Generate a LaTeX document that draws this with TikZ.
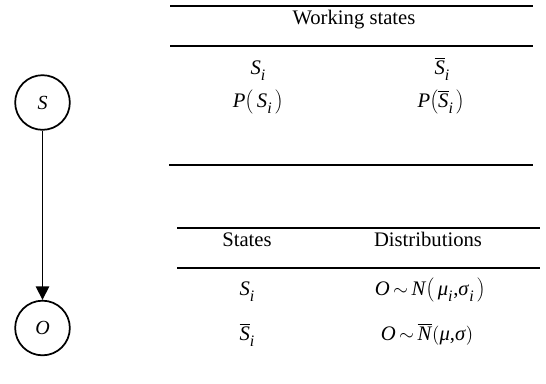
\documentclass[tikz,border=0pt]{standalone}
\usepackage{fontspec}
\setmainfont{Liberation Serif}
\usetikzlibrary{arrows.meta}
\newcommand\myit[1]{\textit{#1}}
\newcommand\mysub[1]{\raisebox{-0.3em}{\fontsize{12}{12}\selectfont\textit{#1}}}
\newcommand\mybar[1]{$\overline{\hbox{\textit{#1}}}$}
\newcommand\mySi{\myit{S}\mysub{i}}
\newcommand\mySbi{\mybar{S}\mysub{i}}
\tikzset{
  rulel/.style={line width=1.6pt},
  cell/.style={inner sep=0pt, anchor=base, font=\fontsize{15.5}{17}\selectfont},
  statenode/.style={circle, draw, line width=1.3pt, minimum size=41pt, inner sep=0pt, font=\fontsize{15}{16}\selectfont\itshape},
  conn/.style={line width=1.1pt, -{Triangle[length=10pt,width=10pt]}}
}
\begin{document}
\begin{tikzpicture}[x=0.75pt,y=-0.75pt]
\useasboundingbox (0,0) rectangle (546,383);
% nodes
\node[statenode] (s) at (42.5,102.5) {S};
\node[statenode] (o) at (42.5,328) {O};
\draw[conn] (s) -- (o);
% top table
\coordinate (t1l) at (170,6);   \coordinate (t1r) at (533,6);
\coordinate (t2l) at (170,46);  \coordinate (t2r) at (533,46);
\coordinate (t3l) at (169,165); \coordinate (t3r) at (533,165);
\draw[rulel] (t1l) -- (t1r);
\draw[rulel] (t2l) -- (t2r);
\draw[rulel] (t3l) -- (t3r);
\node[cell] (ws) at (354,24) {Working states};
\node[cell] (si1) at (258,74) {\mySi};
\node[cell] (sb1) at (442,74) {\mySbi};
\node[cell] (p1) at (258,107) {\myit{P}$\left(\hbox{\,\mySi\,}\right)$};
\node[cell] (p2) at (441,107) {\myit{P}$\left(\hbox{\mySbi\,}\right)$};
% bottom table
\coordinate (b1l) at (177,228); \coordinate (b1r) at (540,228);
\coordinate (b2l) at (177,268); \coordinate (b2r) at (540,268);
\draw[rulel] (b1l) -- (b1r);
\draw[rulel] (b2l) -- (b2r);
\node[cell] (st) at (247,246) {States};
\node[cell] (di) at (428,246) {Distributions};
\node[cell] (si2) at (247,295) {\mySi};
\node[cell] (d1) at (430,295) {\myit{O}\,$\sim$\,\myit{N}$\left(\hbox{\,\myit{μ}\mysub{i}\hspace{0.5pt},\myit{σ}\mysub{i}\,}\right)$};
\node[cell] (sb2) at (247,340) {\mySbi};
\node[cell] (d2) at (427,340) {\myit{O}\,$\sim$\,\mybar{N}$\left(\hbox{\myit{μ},\myit{σ}}\right)$};
\end{tikzpicture}
\end{document}
